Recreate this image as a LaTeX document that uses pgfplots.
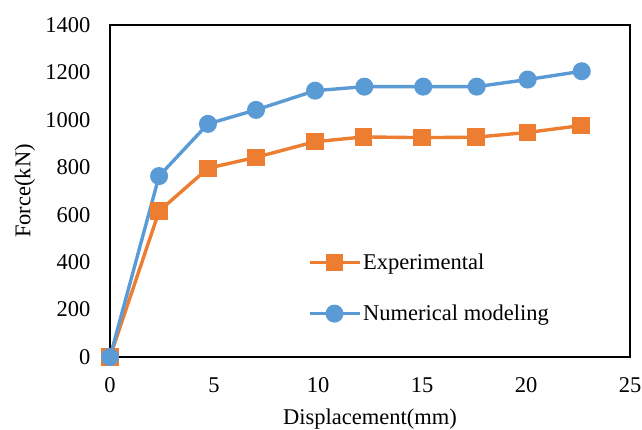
\documentclass[border=0pt]{standalone}
\usepackage{pgfplots}
\pgfplotsset{compat=1.18}
\usepackage{fontspec}
\setmainfont{Liberation Serif}
\definecolor{exporange}{HTML}{ED7D31}
\definecolor{numblue}{HTML}{5B9BD5}
\begin{document}
\begin{tikzpicture}
\path[use as bounding box] (-110pt,-73pt) rectangle (532pt,357pt);
\begin{axis}[
  at={(0pt,0pt)}, anchor=south west,
  width=520pt, height=332pt, scale only axis,
  xmin=0, xmax=25, ymin=0, ymax=1400,
  xtick={0,5,10,15,20,25}, ytick={0,200,400,600,800,1000,1200,1400},
  major tick length=0pt,
  axis line style={line width=1.5pt, black},
  clip=false,
  /pgf/number format/assume math mode=true,
  /pgf/number format/1000 sep={},
  ticklabel style={font=\fontsize{22.5}{27}\selectfont},
  yticklabel style={xshift=-16pt},
  xticklabel style={yshift=-17pt},
  label style={font=\fontsize{22.5}{27}\selectfont},
  xlabel={Displacement(mm)},
  ylabel={Force(kN)},
  xlabel style={at={(0.5,0)}, anchor=center, yshift=-62pt},
  ylabel style={at={(0,0.5)}, anchor=center, yshift=85pt},
  legend cell align=left,
  legend style={draw=none, fill=none, at={(0.38,0.317)}, anchor=north west,
    font=\fontsize{22.5}{27}\selectfont, row sep=30pt, inner sep=0pt},
  legend image code/.code={\draw[mark repeat=2,mark phase=2] plot coordinates {(0pt,0pt) (25pt,0pt) (50pt,0pt)};},
]
\addplot[exporange, line width=3.4pt, mark=square*, mark size=7pt, mark options={solid}] coordinates {
  (0,0) (2.36,615) (4.71,796) (7.02,842) (9.86,908) (12.2,928) (15.0,925) (17.6,927) (20.08,947) (22.65,976)
};
\addlegendentry{Experimental}
\addplot[numblue, line width=3.4pt, mark=*, mark size=7.3pt, mark options={solid}] coordinates {
  (0,0) (2.36,763) (4.71,983) (7.02,1042) (9.86,1123) (12.23,1140) (15.06,1140) (17.63,1140) (20.08,1170) (22.68,1205)
};
\addlegendentry{Numerical modeling}
\end{axis}
\end{tikzpicture}
\end{document}
